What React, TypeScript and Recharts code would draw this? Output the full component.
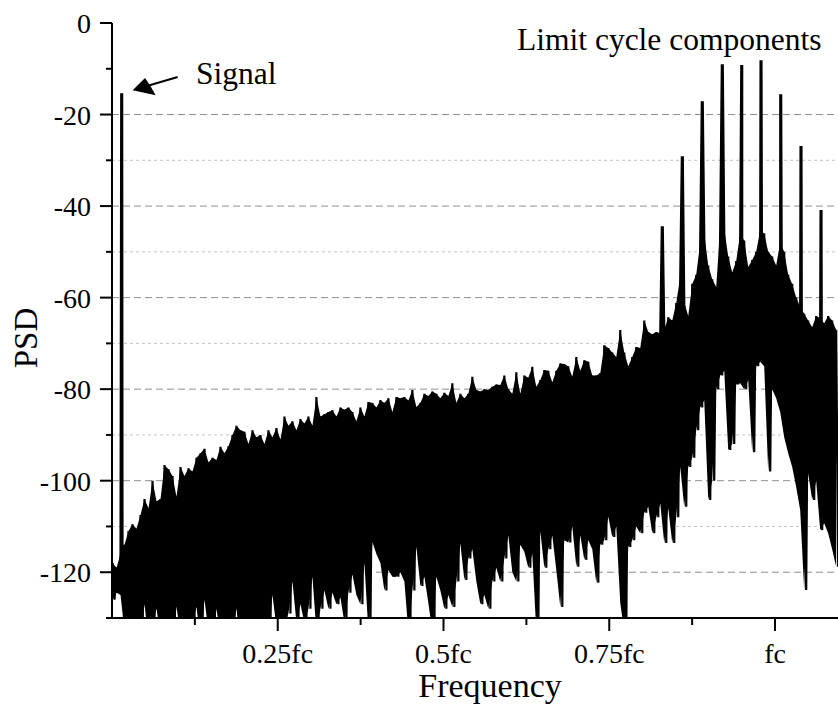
import React from 'react';
import { ComposedChart, Line, Area, XAxis, YAxis, CartesianGrid, ReferenceDot } from 'recharts';

const FONT = '"Liberation Serif", "Times New Roman", Times, serif';

// Frequency grid of the spectrum, in units of fc
const binStart = 0.0008;
const binWidth = 0.00603;

// Top of the noise floor in each frequency bin (dB)
const noiseTop = [
  -118, -119, -116, -114, -111, -109.5, -110.5, -107.5, -104, -106,
  -100, -104.5, -104, -96.6, -97.5, -99, -103.5, -97, -99, -97.3,
  -98, -95, -94, -93, -96, -95, -95.5, -92.6, -94, -92.5,
  -90, -88, -89, -89.3, -92, -89, -90.5, -90, -92, -89,
  -90.5, -88.5, -91, -86, -88, -87, -89, -86.5, -87.5, -86,
  -88, -81.7, -86, -85.5, -85, -84.6, -86, -84, -84.5, -84,
  -85, -87, -84, -86, -82.8, -83, -84, -82.4, -83, -82,
  -85, -81.7, -82, -81.7, -82.5, -80.2, -83.9, -83, -81, -81.5,
  -80.5, -81, -82, -80.8, -81.5, -78.7, -83, -81, -82, -81,
  -77.3, -80.2, -80.5, -80, -80.2, -79.5, -79, -79.1, -77, -80,
  -81, -76.3, -81, -77, -77.5, -75.1, -79.5, -78, -75.8, -76,
  -78.5, -76, -74.4, -74.5, -75, -77.3, -73, -76, -73.7, -74,
  -77, -77, -76.5, -70.4, -71, -72, -73, -67.1, -72, -75,
  -73, -70.8, -71, -65, -67.5, -68, -67.5, -67.8, -67, -64.3,
  -65, -61.2, -55.5, -61, -64, -57, -55, -48, -46, -53,
  -56, -57.7, -44.6, -45, -51, -54.5, -52, -46, -47.5, -53.3,
  -51.8, -50, -45.3, -46, -50, -51, -53, -48, -50, -55,
  -57, -60, -62, -63.5, -65, -66.5, -64, -64.5, -65.6, -64,
  -65, -67,
];

// Bottom of the noise in each bin, half a bin later (dB)
const noiseBottom = [
  -126, -124.5, -125, -133, -136, -132, -138, -134, -127, -135,
  -131, -128, -134, -137, -133, -136, -127.5, -134, -131, -138,
  -131, -127.6, -135, -126, -133, -137, -128, -134, -132, -138,
  -133, -128, -136, -131, -134, -137, -132, -135, -131, -133,
  -125, -132, -134, -131, -129, -122, -131, -127, -131, -128,
  -121, -133, -128, -124, -128, -124.5, -127, -125.5, -131, -124.5,
  -120.5, -125, -127, -118, -133, -113.4, -116, -118, -124, -119.5,
  -121, -121, -120, -122, -133, -124, -114.5, -123, -121, -126.7,
  -133, -121, -124, -128, -125, -127.6, -122, -113.7, -121.7, -117,
  -115, -122, -127, -125, -128, -122, -119, -122, -117, -112,
  -120, -122, -114, -115.5, -119, -116, -133, -111, -119, -115,
  -112, -119.5, -127.6, -113, -113.5, -110, -118.8, -112, -117.3, -113,
  -115, -122.3, -114, -113, -107.9, -112.3, -110, -126.7, -133, -114.5,
  -113, -110, -111.5, -107, -105.7, -111.5, -108, -105, -113.6, -106,
  -113.6, -108, -97, -105.7, -97, -95, -89, -84, -82.4, -104.2,
  -100, -80, -77, -76, -93.3, -92, -79, -78.7, -80, -78,
  -93.8, -75, -74, -75, -98, -80, -82, -85, -90.5, -94,
  -97, -101.4, -106.4, -123.9, -98.4, -104.2, -100, -110.8, -109.3, -111.5,
  -115, -118.8,
];

// Discrete tones: the signal and the limit cycle components
const toneFreqs = [0.01463, 0.83, 0.8602, 0.8903, 0.9205, 0.9498, 0.9789, 1.0086, 1.0392, 1.0694];
const tonePeaks = [-15.6, -44.4, -29.1, -17.1, -9.0, -9.4, -8.4, -15.8, -27.1, -41.1];

const yDomain = [-130, 0];
const yTicks = [0, -10, -20, -30, -40, -50, -60, -70, -80, -90, -100, -110, -120, -130];
const gridMajor = [-20, -40, -60, -80, -100, -120];
const gridMinor = [-30, -50, -70, -90, -110];
const xTicks = [0.125, 0.25, 0.375, 0.5, 0.625, 0.75, 0.875, 1.0];
const xTickLabels: Record<string, string> = { '0.25': '0.25fc', '0.5': '0.5fc', '0.75': '0.75fc', '1': 'fc' };

const signalText = { f: 0.1267, psd: -13.4, text: 'Signal' };
const arrowTip = { f: 0.0312, psd: -14.7 };
const limitText = { f: 0.6109, psd: -6.0, text: 'Limit cycle components' };

type Pt = { f: number; psd: number; band?: [number, number] };
const points: Pt[] = [];
noiseTop.forEach((v, i) => {
  const f = binStart + i * binWidth;
  points.push({ f, psd: v, band: [noiseBottom[i], v] });
  points.push({ f: f + binWidth / 2, psd: noiseBottom[i] });
});
toneFreqs.forEach((f, k) => {
  points.push({ f: f - 0.0007, psd: tonePeaks[k] });
  points.push({ f: f + 0.0007, psd: tonePeaks[k] });
});
points.sort((a, b) => a.f - b.f);

const gridGen = (values: number[]) => (args: any) => {
  const yAxis = args.yAxis || {};
  if (typeof yAxis.scale === 'function') return values.map((v) => yAxis.scale(v));
  const off = args.offset || { top: 23, height: 595 };
  const [lo, hi] = yDomain;
  return values.map((v) => off.top + ((hi - v) / (hi - lo)) * off.height);
};

const YTick = (props: any) => {
  const { x, y, payload } = props;
  const v = payload.value;
  const major = v % 20 === 0;
  return (
    <g>
      <line x1={x - (major ? 12 : 6)} x2={x} y1={y} y2={y} stroke="#000" strokeWidth={2} />
      {major && (
        <text x={x - 21} y={y} dy={10} textAnchor="end" fontFamily={FONT} fontSize={28} fill="#000">
          {v}
        </text>
      )}
    </g>
  );
};

const XTick = (props: any) => {
  const { x, y, payload } = props;
  const label = xTickLabels[String(payload.value)];
  return (
    <g>
      <line x1={x} x2={x} y1={y} y2={y + (label ? 13 : 7)} stroke="#000" strokeWidth={2} />
      {label && (
        <text x={x} y={y + 45} textAnchor="middle" fontFamily={FONT} fontSize={28} fill="#000">
          {label}
        </text>
      )}
    </g>
  );
};

const XTitle = (props: any) => {
  const vb = props.viewBox || { x: 112, y: 618, width: 726, height: 92 };
  return (
    <text x={vb.x + 378} y={vb.y + 79} textAnchor="middle" fontFamily={FONT} fontSize={34} fill="#000">
      Frequency
    </text>
  );
};

const YTitle = (props: any) => {
  const vb = props.viewBox || { x: 0, y: 23, width: 112, height: 595 };
  const cx = vb.x + 37;
  const cy = vb.y + 315;
  return (
    <text x={cx} y={cy} transform={`rotate(-90 ${cx} ${cy})`} textAnchor="middle" fontFamily={FONT} fontSize={33} fill="#000">
      PSD
    </text>
  );
};

const TextShape = (text: string) => (props: any) => (
  <text x={props.cx} y={props.cy} fontFamily={FONT} fontSize={31.5} fill="#000">
    {text}
  </text>
);

const ArrowShape = (props: any) => {
  const { cx, cy } = props;
  return (
    <g>
      <line x1={cx + 16} y1={cy - 4.8} x2={cx + 45} y2={cy - 13.3} stroke="#000" strokeWidth={2} />
      <polygon
        points={`${cx},${cy} ${cx + 12.3},${cy - 12.3} ${cx + 17.3},${cy - 5} ${cx + 23},${cy + 5}`}
        fill="#000"
      />
    </g>
  );
};

export default function App() {
  return (
    <div style={{ position: 'absolute', left: 0, top: 0, width: 838, height: 710, background: '#fff' }}>
      <ComposedChart width={838} height={710} data={points} margin={{ top: 23, right: 0, bottom: 0, left: 0 }}>
        <CartesianGrid
          vertical={false}
          stroke="#c4c4c4"
          strokeDasharray="3 3"
          horizontalCoordinatesGenerator={gridGen(gridMinor)}
        />
        <CartesianGrid
          vertical={false}
          stroke="#8e8e8e"
          strokeDasharray="7 4"
          horizontalCoordinatesGenerator={gridGen(gridMajor)}
        />
        <XAxis
          dataKey="f"
          type="number"
          domain={[0, 1.095]}
          allowDataOverflow
          ticks={xTicks}
          interval={0}
          tickSize={0}
          tickMargin={0}
          tickLine={false}
          tick={<XTick />}
          height={92}
          axisLine={{ stroke: '#000', strokeWidth: 2 }}
          label={<XTitle />}
        />
        <YAxis
          type="number"
          domain={yDomain}
          allowDataOverflow
          ticks={yTicks}
          interval={0}
          tickSize={0}
          tickMargin={0}
          tickLine={false}
          tick={<YTick />}
          width={112}
          axisLine={{ stroke: '#000', strokeWidth: 2 }}
          label={<YTitle />}
        />
        <Area
          dataKey="band"
          type="linear"
          connectNulls
          fill="#000"
          fillOpacity={1}
          stroke="none"
          dot={false}
          activeDot={false}
          isAnimationActive={false}
        />
        <Line
          dataKey="psd"
          type="linear"
          stroke="#000"
          strokeWidth={2.2}
          dot={false}
          activeDot={false}
          isAnimationActive={false}
        />
        <ReferenceDot x={arrowTip.f} y={arrowTip.psd} r={1} shape={ArrowShape} />
        <ReferenceDot x={signalText.f} y={signalText.psd} r={1} shape={TextShape(signalText.text)} />
        <ReferenceDot x={limitText.f} y={limitText.psd} r={1} shape={TextShape(limitText.text)} />
      </ComposedChart>
    </div>
  );
}
